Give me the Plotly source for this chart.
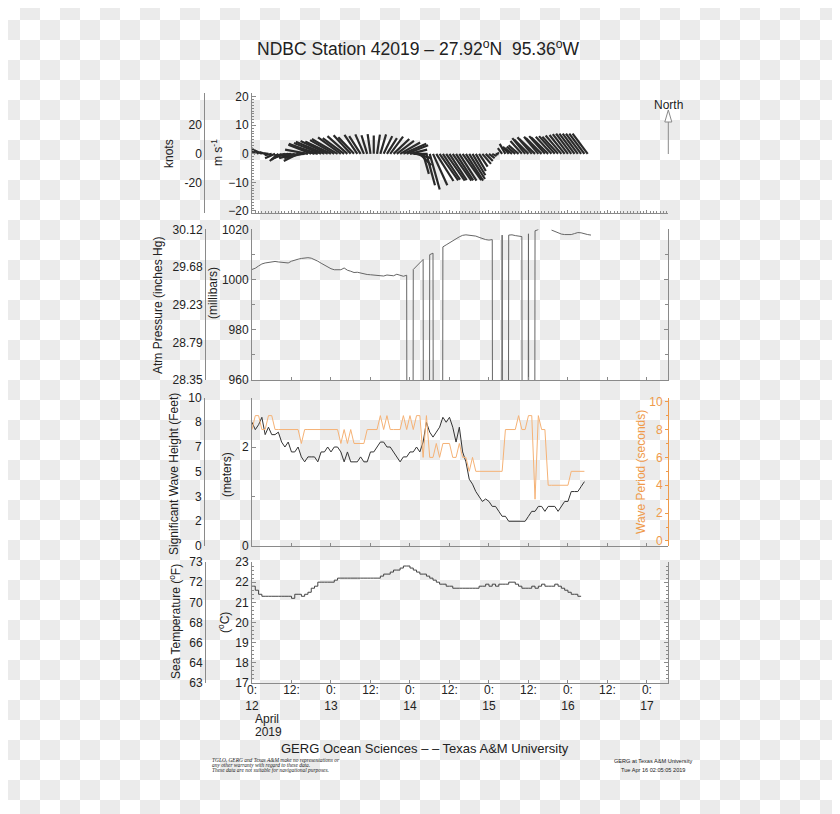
import base64
import plotly.graph_objects as go

# the page body adds an 8 px margin, so the figure is 8 px smaller and every
# position below (taken from the 840x814 reference) is shifted by that margin
PAGE_W, PAGE_H, PAD = 840, 814, 8
W, H = PAGE_W - PAD, PAGE_H - PAD

# hourly records starting 2019-04-12 00:00 (hour 0)
wind_u = [-2.5, -3.0, -2.5, -2.5, -2.0, -1.5, -2.5, -3.5, -3.0, -3.5,
          -4.0, -5.0, -6.0, -5.5, -5.0, -6.0, -7.5, -8.0, -8.0, -9.0,
          -10.0, -9.5, -10.0, -9.5, -9.0, -8.5, -9.0, -8.0, -7.5, -7.0,
          -6.0, -5.5, -4.5, -4.0, -3.0, -2.0, -1.0, 0.0, 1.0, 2.0,
          3.0, 3.5, 4.5, 5.5, 6.0, 7.0, 8.0, 7.5, 6.0, 5.0,
          5.0, 4.0, 2.0, 3.0, 3.5, 5.0, 6.0, 6.5, 6.0, 6.5,
          6.0, 6.5, 6.0, 6.0, 6.5, 6.0, 5.5, 4.5, 3.5, 3.0,
          3.0, 2.5, 2.0, 1.5, 1.0, -0.5, -1.5, -2.0, -2.0, -2.5,
          -3.0, -3.5, -4.0, -4.5, -5.0, -5.0, -5.5, -5.0, -5.5, -5.5,
          -6.0, -5.5, -5.5, -5.5, -5.5, -5.3, -5.3, -5.3, -5.3, -5.3,
          -5.3, -5.3, -5.3]
wind_v = [3.0, 2.5, 2.0, 1.2, 0.6, 0.2, -0.5, -1.5, -2.5, -2.0,
          -1.5, -1.0, -0.5, -1.5, -2.5, -1.5, -0.5, 1.5, 3.2, 3.5,
          3.3, 3.8, 4.2, 4.5, 4.3, 4.8, 5.2, 5.8, 5.5, 6.2,
          6.5, 5.8, 6.6, 6.2, 6.8, 6.5, 6.9, 6.4, 6.7, 6.8,
          6.2, 5.5, 6.0, 5.2, 4.5, 4.0, 3.5, 3.0, 1.5, 0.0,
          -1.5, -4.0, -7.0, -11.0, -12.5, -11.0, -9.5, -9.3, -9.0, -9.4,
          -9.2, -9.4, -9.3, -9.4, -9.2, -9.4, -8.8, -7.5, -6.0, -4.5,
          -3.5, -2.5, -1.5, -0.8, -0.2, 0.5, 2.0, 3.5, 2.5, 2.0,
          2.5, 3.0, 4.5, 5.5, 5.0, 5.8, 5.2, 6.0, 5.5, 6.2,
          5.8, 6.0, 6.2, 6.0, 6.4, 6.6, 6.9, 7.1, 7.1, 7.1,
          7.1, 7.1, 7.1]

# 0.0 = bad reading, None = missing
pressure_mb = [1004.0, 1004.5, 1005.4, 1006.2, 1006.6, 1006.8, 1007.1, 1007.2, 1007.0, 1006.8,
               1006.9, 1006.6, 1007.3, 1007.8, 1008.1, 1008.4, 1008.6, 1008.7, 1008.5, 1008.0,
               1007.3, 1006.5, 1005.7, 1004.9, 1004.3, 1003.9, 1004.0, 1003.9, 1004.6, 1003.7,
               1003.3, 1002.8, 1002.9, 1002.5, 1002.4, 1002.0, 1001.9, 1001.7, 1001.8, 1001.5,
               1001.4, 1001.8, 1001.7, 1001.5, 1002.1, 1001.6, 1001.3, 1001.7, 0.0, 1004.0,
               1005.3, 1006.7, 1008.0, 0.0, 1009.9, 1010.5, 0.0, 0.0, 1013.0, 1013.8,
               1014.7, 1015.4, 1016.2, 1017.0, 1017.6, 1017.8, 1017.7, 1017.6, 1017.3, 1016.8,
               1016.3, 1015.9, 1015.7, 1015.9, 0.0, 0.0, 1017.7, 0.0, 1017.7, 1017.8,
               1017.5, 1017.3, 1017.1, 0.0, 1018.2, 0.0, 1019.4, 1019.9, None, None,
               None, 1019.7, 1019.2, 1018.5, 1018.1, 1017.9, 1017.8, 1017.9, 1018.3, 1018.7,
               1018.6, 1018.1, 1017.9, 1017.7]

wave_height_m = [2.5, 2.35, 2.45, 2.6, 2.25, 2.4, 2.25, 2.25, 2.3, 2.1,
                 2.0, 2.1, 1.9, 1.9, 2.0, 1.8, 1.7, 1.8, 1.8, 1.8,
                 1.7, 1.9, 1.9, 2.0, 1.9, 2.0, 2.0, 1.9, 1.7, 1.9,
                 1.7, 1.7, 1.7, 1.8, 1.7, 1.7, 1.9, 1.9, 2.0, 2.1,
                 2.1, 2.0, 2.0, 1.9, 1.8, 1.7, 1.8, 1.8, 1.9, 1.9,
                 2.0, 1.9, 2.1, 2.5, 2.3, 2.2, 2.3, 2.4, 2.6, 2.5,
                 2.6, 2.4, 2.1, 2.4, 1.9, 1.7, 1.35, 1.25, 1.1, 1.0,
                 0.9, 0.95, 0.9, 0.8, 0.8, 0.7, 0.6, 0.6, 0.5, 0.5,
                 0.5, 0.5, 0.5, 0.5, 0.6, 0.7, 0.7, 0.8, 0.8, 0.7,
                 0.8, 0.8, 0.8, 0.7, 0.8, 0.9, 0.9, 1.1, 1.1, 1.1,
                 1.2, 1.3]

wave_period_s = [8, 9, 9, 8, 8, 9, 9, 8, 8, 8,
                 8, 8, 8, 8, 8, 7, 8, 8, 8, 8,
                 8, 8, 8, 8, 8, 8, 8, 7, 8, 7,
                 8, 7, 7, 7, 7, 8, 8, 8, 8, 9,
                 8, 9, 8, 8, 8, 8, 9, 8, 9, 8,
                 9, 9, 6, 9, 6, 6, 7, 6, 7, 7,
                 7, 6, 6, 7, 6, 6, 5, 6, 5, 5,
                 5, 5, 5, 5, 5, 5, 5, 8, 8, 8,
                 8, 9, 8, 8, 9, 9, 3, 9, 8, 8,
                 4, 4, 4, 4, 4, 4, 4, 5, 5, 5,
                 5, 5]

sea_temp_c = [21.8, 21.6, 21.4, 21.3, 21.3, 21.3, 21.3, 21.3, 21.3, 21.3,
              21.3, 21.3, 21.2, 21.4, 21.4, 21.3, 21.4, 21.5, 21.7, 21.8,
              22.0, 22.0, 22.0, 22.0, 22.0, 22.1, 22.2, 22.2, 22.2, 22.2,
              22.2, 22.2, 22.2, 22.2, 22.2, 22.2, 22.2, 22.2, 22.2, 22.3,
              22.4, 22.4, 22.5, 22.6, 22.6, 22.7, 22.8, 22.8, 22.7, 22.6,
              22.5, 22.4, 22.4, 22.3, 22.2, 22.1, 22.0, 21.9, 21.9, 21.8,
              21.8, 21.7, 21.7, 21.7, 21.7, 21.7, 21.7, 21.7, 21.7, 21.8,
              21.8, 21.9, 21.8, 21.9, 21.8, 21.9, 21.9, 21.9, 22.0, 22.0,
              21.9, 21.8, 21.7, 21.7, 21.7, 21.8, 21.7, 21.8, 21.9, 21.8,
              21.8, 21.8, 21.9, 21.8, 21.7, 21.6, 21.5, 21.4, 21.4, 21.3,
              21.3]

# axis labels
day_labels = ["12", "13", "14", "15", "16", "17"]
knots_ticks = [-20, 0, 20]
inhg_labels = ["28.35", "28.79", "29.23", "29.68", "30.12"]
feet_labels = ["0", "2", "3", "5", "7", "8", "10"]
fahr_labels = ["63", "64", "66", "68", "70", "72", "73"]

FONT = "Liberation Sans, Arial, Helvetica, sans-serif"
INK = "#222222"
AXIS = "#8a8a8a"
ORANGE = "#ef9a4a"

X_END = 126.4                      # hours shown on every panel
X_LEFT, X_RIGHT = 252, 668
WIND_PX, PRES_PX, WAVE_PX, TEMP_PX = (93, 212.7), (229.3, 380), (397.5, 546), (562, 683)
WIND_RANGE = [-20.6, 21.3]


def fx(x):
    return (x - PAD) / W


def fy(y):
    return 1 - (y - PAD) / H


XDOM = [fx(X_LEFT), fx(X_RIGHT)]


def ydom(px):
    top, bottom = px
    return [fy(bottom), fy(top)]


def xaxis(anchor, **kw):
    d = dict(domain=XDOM, range=[0, X_END], anchor=anchor, showline=True, linecolor=AXIS,
             linewidth=1, showgrid=False, zeroline=False, ticks="inside", ticklen=3,
             tickcolor=AXIS, tick0=0, dtick=12, showticklabels=False)
    d.update(kw)
    return d


def yaxis(px, rng, **kw):
    d = dict(domain=ydom(px), range=rng, showline=True, linecolor=AXIS, linewidth=1,
             showgrid=False, zeroline=False, ticks="inside", ticklen=4, tickcolor=AXIS,
             tickfont=dict(size=12, color=INK))
    d.update(kw)
    return d


def free_axis(over, rng, xpos, vals, text):
    return dict(overlaying=over, anchor="free", position=fx(xpos), side="left", range=rng,
                showline=True, linecolor=AXIS, linewidth=1, showgrid=False, zeroline=False,
                ticks="", tickmode="array", tickvals=vals, ticktext=text,
                tickfont=dict(size=12, color=INK))


hours = lambda n: list(range(n))

# stick plot: each stick starts on the zero line, drawn with equal pixel scale on both axes
ms_px = (WIND_PX[1] - WIND_PX[0]) / (WIND_RANGE[1] - WIND_RANGE[0])
hour_px = (X_RIGHT - X_LEFT) / X_END
k = ms_px / hour_px
sx, sy = [], []
for h, (u, v) in enumerate(zip(wind_u, wind_v)):
    sx += [h, h + u * k, None]
    sy += [0, v, None]

fig = go.Figure()
fig.add_trace(go.Scatter(x=sx, y=sy, mode="lines", line=dict(color="#2a2a2a", width=2.2),
                         xaxis="x", yaxis="y", hoverinfo="skip"))
fig.add_trace(go.Scatter(x=[None], y=[None], xaxis="x", yaxis="y2"))
fig.add_trace(go.Scatter(x=hours(len(pressure_mb)), y=pressure_mb, mode="lines",
                         line=dict(color="#666666", width=1), xaxis="x2", yaxis="y3"))
fig.add_trace(go.Scatter(x=[None], y=[None], xaxis="x2", yaxis="y4"))
fig.add_trace(go.Scatter(x=hours(len(wave_period_s)), y=wave_period_s, mode="lines",
                         line=dict(color="#f5b276", width=1), xaxis="x3", yaxis="y6"))
fig.add_trace(go.Scatter(x=hours(len(wave_height_m)), y=wave_height_m, mode="lines",
                         line=dict(color="#333333", width=1), xaxis="x3", yaxis="y5"))
fig.add_trace(go.Scatter(x=[None], y=[None], xaxis="x3", yaxis="y7"))
fig.add_trace(go.Scatter(x=hours(len(sea_temp_c)), y=sea_temp_c, mode="lines", line_shape="hv",
                         line=dict(color="#444444", width=1), xaxis="x4", yaxis="y8"))
fig.add_trace(go.Scatter(x=[None], y=[None], xaxis="x4", yaxis="y9"))

tick_hours = list(range(0, 121, 12))
tick_text = []
for i, t in enumerate(tick_hours):
    tick_text.append("0:<br>" + day_labels[i // 2] if t % 24 == 0 else "12:")

fig.update_layout(
    width=W, height=H, showlegend=False, template="none",
    margin=dict(l=0, r=0, t=0, b=0),
    paper_bgcolor="white", plot_bgcolor="rgba(0,0,0,0)",
    font=dict(family=FONT, size=12, color=INK),
    xaxis=xaxis("y", minor=dict(dtick=1, ticks="inside", ticklen=1.5, tickcolor=AXIS)),
    yaxis=yaxis(WIND_PX, WIND_RANGE, tick0=0, dtick=10,
                minor=dict(dtick=1, ticks="inside", ticklen=2, tickcolor=AXIS)),
    yaxis2=free_axis("y", [r * 1.94384 for r in WIND_RANGE], 204.3, knots_ticks,
                     [str(t) for t in knots_ticks]),
    xaxis2=xaxis("y3"),
    yaxis3=yaxis(PRES_PX, [960, 1020], tick0=960, dtick=20, mirror="ticks",
                 minor=dict(dtick=10, ticks="inside", ticklen=3, tickcolor=AXIS)),
    yaxis4=free_axis("y3", [960 / 33.8639, 1020 / 33.8639], 205,
                     [float(t) for t in inhg_labels], inhg_labels),
    xaxis3=xaxis("y5"),
    yaxis5=yaxis(WAVE_PX, [0, 3], tickmode="array", tickvals=[0, 2],
                 minor=dict(tickvals=[1, 3], ticks="inside", ticklen=3, tickcolor=AXIS)),
    # wave period axis sits on the right edge with its labels inside the panel
    yaxis6=dict(overlaying="y5", anchor="free", position=fx(X_RIGHT), side="left",
                range=[-0.36, 10.3], showline=True, linecolor=ORANGE, linewidth=1,
                showgrid=False, zeroline=False, ticks="outside", ticklen=3, tickcolor=ORANGE,
                tick0=0, dtick=2, tickfont=dict(size=12, color=ORANGE),
                minor=dict(dtick=1, ticks="outside", ticklen=2, tickcolor=ORANGE)),
    yaxis7=free_axis("y5", [0, 3], 204, [i * 0.5 for i in range(7)], feet_labels),
    xaxis4=xaxis("y8", showticklabels=True, tickmode="array", tickvals=tick_hours,
                 ticktext=tick_text, tickfont=dict(size=12, color=INK), ticklabelstandoff=-4),
    yaxis8=yaxis(TEMP_PX, [17, 23], tick0=17, dtick=1, mirror="ticks",
                 minor=dict(dtick=0.2, ticks="inside", ticklen=2, tickcolor=AXIS)),
    yaxis9=free_axis("y8", [17, 23], 205, list(range(17, 24)), fahr_labels),
)


def note(text, x, y, size=12, angle=0, color=INK, xanchor="center", family=FONT, style="normal"):
    fig.add_annotation(text=text, x=fx(x), y=fy(y), xref="paper", yref="paper",
                       showarrow=False, textangle=angle, xanchor=xanchor, yanchor="middle",
                       font=dict(size=size, color=color, family=family, style=style))


note("NDBC Station 42019 \u2013 27.92<sup>o</sup>N\u00a0\u00a095.36<sup>o</sup>W", 418, 48, size=17.5)
note("knots", 169, 154, angle=-90)
note("m s<sup>-1</sup>", 217, 153, angle=-90)
note("Atm Pressure (inches Hg)", 158, 306, angle=-90)
note("(millibars)", 213, 293, angle=-90)
note("Significant Wave Height (Feet)", 174, 474, angle=-90)
note("(meters)", 227, 475, angle=-90)
note("Wave Period (seconds)", 641, 472, angle=-90, color=ORANGE)
note("Sea Temperature (<sup>o</sup>F)", 175, 622, angle=-90)
note("(<sup>o</sup>C)", 224, 623, angle=-90)
note("April", 253, 719, xanchor="left")
note("2019", 253, 732, xanchor="left")
note("North", 668, 105)
note("GERG Ocean Sciences \u2013 \u2013 Texas A&M University", 425, 748, size=13)
for i, line in enumerate(["TGLO, GERG and Texas A&M make no representations or",
                          "any other warranty with regard to these data.",
                          "These data are not suitable for navigational purposes."]):
    note(line, 210, 760 + 5 * i, size=5.4, xanchor="left",
         family="Liberation Serif, Times New Roman, serif", style="italic")
note("GERG at Texas A&M University", 653, 761, size=5.6)
note("Tue Apr 16 02:05:05 2019", 653, 770, size=5.6)

# north arrow with an open head
fig.add_shape(type="line", xref="paper", yref="paper", x0=fx(668.3), x1=fx(668.3),
              y0=fy(154), y1=fy(122), line=dict(color="#8a8a8a", width=1))
fig.add_shape(type="path", xref="paper", yref="paper",
              path="M {:.5f},{:.5f} L {:.5f},{:.5f} L {:.5f},{:.5f} Z".format(
                  fx(664.8), fy(122), fx(668.3), fy(110), fx(671.8), fy(122)),
              line=dict(color="#8a8a8a", width=1), fillcolor="white")

# transparent-canvas checkerboard behind everything, phased to the page grid
svg = ('<svg xmlns="http://www.w3.org/2000/svg" width="{w}" height="{h}">'
       '<defs><pattern id="p" x="-{o}" y="-{o}" width="40" height="40" patternUnits="userSpaceOnUse">'
       '<rect width="40" height="40" fill="#ffffff"/>'
       '<rect x="20" width="20" height="20" fill="#ebebeb"/>'
       '<rect y="20" width="20" height="20" fill="#ebebeb"/></pattern></defs>'
       '<rect width="{w}" height="{h}" fill="url(#p)"/></svg>').format(w=W, h=H, o=PAD)
fig.add_layout_image(source="data:image/svg+xml;base64," + base64.b64encode(svg.encode()).decode(),
                     xref="paper", yref="paper", x=0, y=1, sizex=1, sizey=1,
                     sizing="stretch", layer="below")

fig.write_html("out.html")
